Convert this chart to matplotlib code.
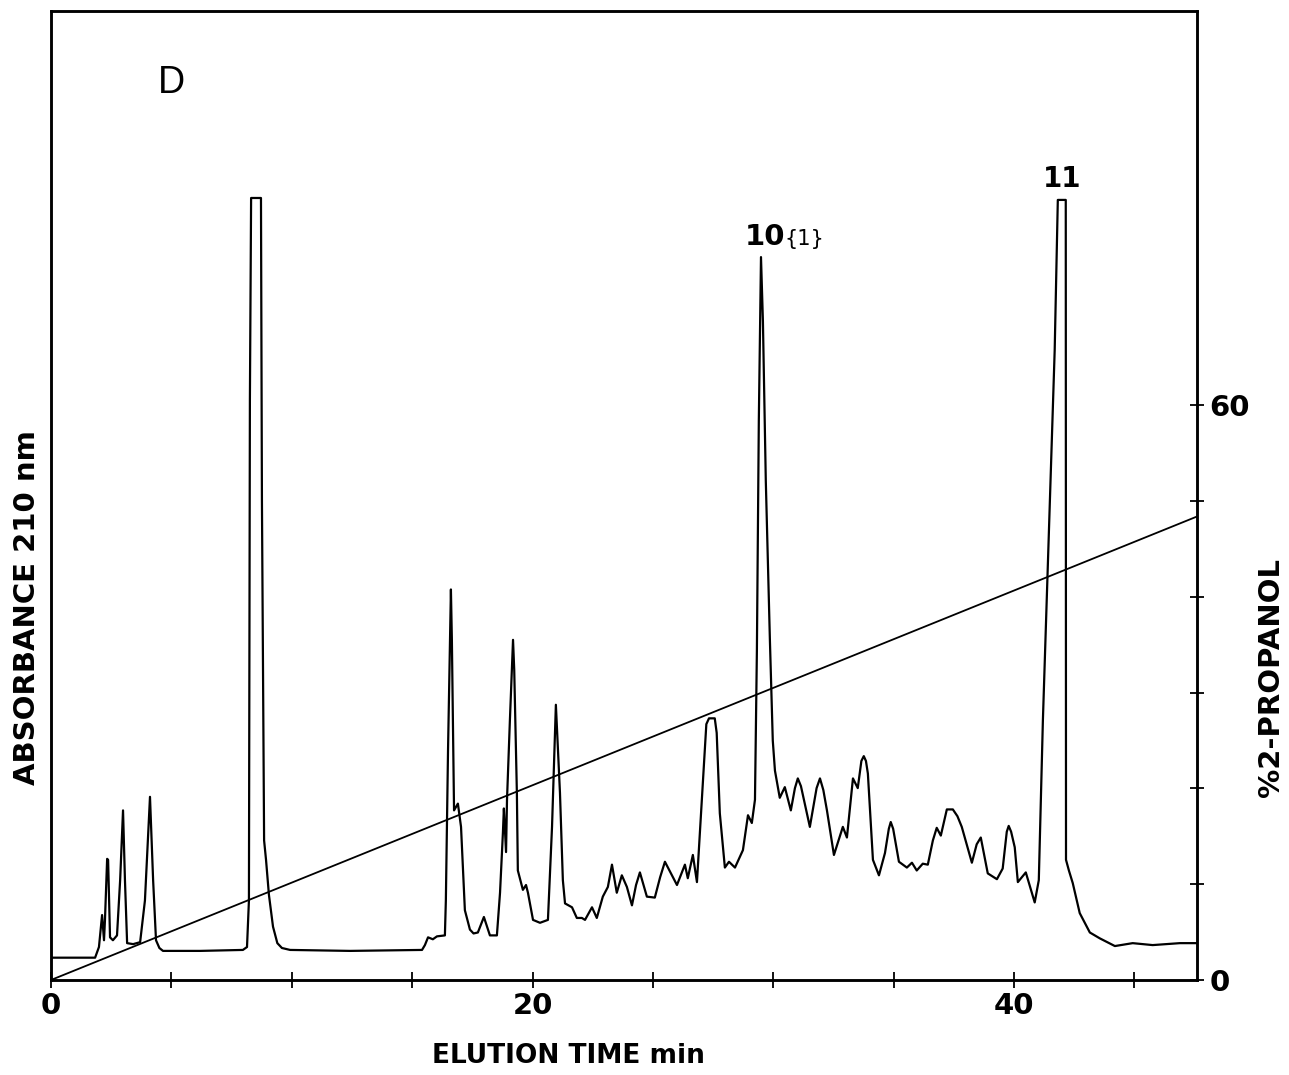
import matplotlib
matplotlib.use("Agg")
import matplotlib.pyplot as plt
import numpy as np

plt.rcParams['font.family'] = ['DejaVu Sans']

# elution time (min) and absorbance (% of full scale)
elution_time = [0.00, 1.83, 1.99, 2.12, 2.20, 2.24, 2.33, 2.37, 2.45, 2.57,
                2.74, 2.87, 2.99, 3.07, 3.16, 3.41, 3.70, 3.90, 4.11, 4.24,
                4.36, 4.50, 4.65, 6.19, 7.97, 8.14, 8.22, 8.26, 8.31, 8.72, 8.76,
                8.85, 8.93, 9.05, 9.22, 9.40, 9.59, 9.93, 12.42, 15.41, 15.53, 15.66, 15.86,
                16.03, 16.36, 16.40, 16.49, 16.61, 16.65, 16.74, 16.90, 17.03, 17.19,
                17.40, 17.55, 17.73, 17.98, 18.23, 18.52, 18.65, 18.77, 18.81, 18.90, 18.94,
                19.06, 19.19, 19.24, 19.35, 19.39, 19.60, 19.73, 19.81, 20.02, 20.31,
                20.64, 20.81, 20.97, 21.14, 21.26, 21.35, 21.64, 21.84, 22.05, 22.18,
                22.47, 22.67, 22.92, 23.13, 23.30, 23.50, 23.71, 23.92, 24.13, 24.30, 24.46, 24.75,
                25.08, 25.30, 25.50, 26.00, 26.33, 26.45, 26.66, 26.83, 27.08, 27.22, 27.33, 27.57, 27.65,
                27.78, 27.99, 28.16, 28.41, 28.74, 28.95, 29.11, 29.24, 29.32, 29.40,
                29.49, 29.57, 29.69, 29.86, 29.98, 30.07, 30.27, 30.48, 30.73, 30.90, 31.02, 31.15,
                31.52, 31.80, 31.94, 32.08, 32.23, 32.52, 32.89, 33.06, 33.31, 33.51, 33.66, 33.76, 33.85, 33.93,
                34.14, 34.39, 34.64, 34.80, 34.88, 34.98, 35.22, 35.55, 35.76, 35.96, 36.21, 36.42,
                36.63, 36.79, 36.96, 37.21, 37.46, 37.65, 37.83, 38.25, 38.45, 38.62, 38.91, 39.29,
                39.53, 39.70, 39.78, 39.88, 40.03, 40.16, 40.49, 40.86, 41.03, 41.20, 41.49, 41.69,
                41.82, 42.15, 42.16, 42.28, 42.44, 42.73, 43.15, 43.56, 44.19, 44.93,
                45.76, 46.89, 47.59]
absorbance = [2.3, 2.3, 3.4, 6.7, 4.1, 6.2, 12.5, 12.4, 4.4, 4.1,
              4.6, 10.3, 17.5, 10.3, 3.8, 3.7, 3.9, 8.2, 18.9, 10.3,
              4.1, 3.3, 3.0, 3.0, 3.1, 3.4, 8.2, 59.8, 80.7, 80.7, 49.5,
              14.4, 12.4, 8.8, 5.5, 3.8, 3.3, 3.1, 3.0, 3.1, 3.6, 4.4, 4.2,
              4.5, 4.6, 8.2, 23.7, 40.3, 35.1, 17.5, 18.2, 15.8, 7.2,
              5.2, 4.8, 4.9, 6.5, 4.6, 4.6, 9.0, 15.2, 17.7, 13.2, 18.6,
              26.8, 35.1, 32.0, 19.3, 11.3, 9.3, 9.8, 9.0, 6.2, 5.9,
              6.2, 15.8, 28.4, 19.3, 10.3, 7.9, 7.5, 6.4, 6.4, 6.2,
              7.5, 6.4, 8.6, 9.6, 11.9, 9.0, 10.8, 9.6, 7.7, 9.8, 11.1, 8.6,
              8.5, 10.6, 12.2, 9.8, 11.9, 10.5, 12.9, 10.1, 20.6, 26.4, 27.0, 27.0, 25.5,
              17.2, 11.6, 12.2, 11.6, 13.4, 17.0, 16.2, 18.6, 34.0, 57.7,
              74.6, 68.0, 51.5, 35.1, 24.7, 21.6, 18.8, 19.9, 17.5, 19.8, 20.8, 20.0,
              15.8, 19.8, 20.8, 19.6, 17.5, 12.9, 15.8, 14.7, 20.8, 19.8, 22.6, 23.1, 22.6, 21.3,
              12.4, 10.8, 13.1, 15.6, 16.3, 15.6, 12.2, 11.6, 12.1, 11.3, 12.0, 11.9,
              14.4, 15.7, 14.9, 17.6, 17.6, 16.9, 15.8, 12.1, 14.0, 14.7, 11.0, 10.4,
              11.5, 15.3, 15.9, 15.3, 13.7, 10.1, 11.1, 8.0, 10.3, 26.8, 49.5, 65.0,
              80.5, 80.5, 12.4, 11.3, 10.0, 6.9, 4.9, 4.3, 3.5, 3.8,
              3.6, 3.8, 3.8]

# 2-propanol gradient (%)
gradient_time = [0.0, 47.6]
gradient_pct = [0.0, 48.4]

x_ticks = [0, 5, 10, 15, 20, 25, 30, 35, 40, 45]
x_labels = ['0', '', '', '', '20', '', '', '', '40', '']
pct_ticks = [0, 10, 20, 30, 40, 50, 60]
pct_labels = ['0', '', '', '', '', '', '60']

fig = plt.figure(figsize=(12.89, 10.75), dpi=100)
ax = fig.add_axes([0.0396, 0.0884, 0.889, 0.9014])
ax2 = ax.twinx()

ax.plot(elution_time, absorbance, color='black', lw=1.6, solid_joinstyle='round')
ax2.plot(gradient_time, gradient_pct, color='black', lw=1.3)

ax.set_xlim(0, 47.6)
ax.set_ylim(0, 100)
ax2.set_ylim(0, 101.2)

for sp in ax.spines.values():
    sp.set_linewidth(1.8)
for sp in ax2.spines.values():
    sp.set_linewidth(1.8)

ax.set_yticks([])
ax.set_xticks(x_ticks)
ax.set_xticklabels(x_labels)
ax.tick_params(axis='x', direction='inout', length=11, width=1.3, pad=3,
               labelsize=21)
for lb in ax.get_xticklabels():
    lb.set_fontweight('bold')

ax2.set_yticks(pct_ticks)
ax2.set_yticklabels(pct_labels)
ax2.tick_params(axis='y', direction='inout', length=10, width=1.3, pad=4,
                labelsize=21)
for lb in ax2.get_yticklabels():
    lb.set_fontweight('bold')

fig.text(0.441, 0.018, 'ELUTION TIME min', fontsize=19, fontweight='bold',
         ha='center', va='center')
fig.text(0.021, 0.435, 'ABSORBANCE 210 nm', fontsize=21, fontweight='bold',
         rotation=90, ha='center', va='center')
fig.text(0.986, 0.370, '%2-PROPANOL', fontsize=21, fontweight='bold',
         rotation=90, ha='center', va='center')

ax.text(5.0, 92.6, 'D', fontsize=27, fontfamily='Liberation Sans',
        ha='center', va='center')
ax.text(28.82, 75.8, '10', fontsize=21, fontweight='bold', ha='left', va='baseline')
ax.text(30.46, 75.8, '{1}', fontsize=15, fontfamily='Liberation Sans Narrow',
        ha='left', va='baseline')
ax.text(42.0, 81.8, '11', fontsize=20, fontweight='bold', ha='center', va='baseline')

fig.savefig('out.png', dpi=100)
